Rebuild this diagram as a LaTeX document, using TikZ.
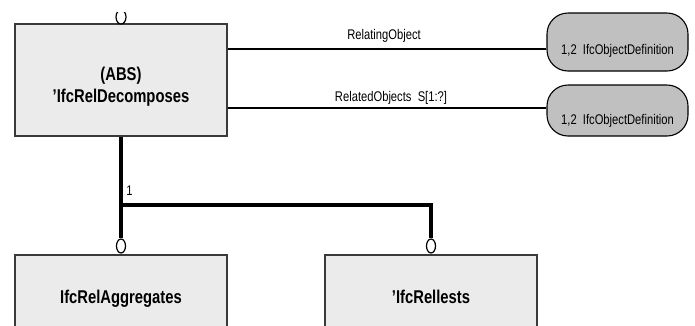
\documentclass[tikz,border=0pt]{standalone}
\usepackage{fontspec}
\setmainfont[FakeStretch=0.8]{Liberation Sans}
\usetikzlibrary{shapes.geometric}
\definecolor{boxfill}{HTML}{EBEBEB}
\definecolor{boxline}{HTML}{3A3A3A}
\definecolor{refill}{HTML}{C0C0C0}
\tikzset{
  entity/.style={draw=boxline, line width=1.2pt, fill=boxfill, rectangle, inner sep=0pt},
  refbox/.style={draw=black, line width=1.1pt, fill=refill, rectangle, rounded corners=21pt, inner sep=0pt, minimum width=141pt},
  bigtxt/.style={font=\fontsize{18.5}{22}\selectfont\bfseries, inner sep=0pt, anchor=base},
  smalltxt/.style={font=\fontsize{14}{16}\selectfont, inner sep=0pt, anchor=base},
  rel/.style={draw=black, line width=1.3pt},
  heavy/.style={draw=black, line width=3.6pt, line join=miter},
  optcirc/.style={ellipse, draw=black, line width=1.2pt, fill=white, minimum width=9pt, minimum height=14pt, inner sep=0pt}
}
\begin{document}
\begin{tikzpicture}[x=1pt,y=-1pt]
\useasboundingbox (0,0) rectangle (695,325);
\clip (0,0) rectangle (695,325);
\fill[white] (0,0) rectangle (695,325);

% main entity
\node[entity, minimum width=212pt, minimum height=112pt] (d) at (121,80) {};
\node[bigtxt] (dabs) at (121,80) {(ABS)};
\node[bigtxt] (dname) at (121,102) {'IfcRelDecomposes};

% top optional circle (clipped)
\begin{scope}
\clip (100,12) rectangle (142,24);
\node[optcirc, minimum width=10pt] (ctop) at (121,17) {};
\end{scope}

% referenced entities
\node[refbox, minimum height=58pt] (o1) at (617.5,42) {};
\node[smalltxt] (o1t) at (617.5,54) {1,2\ \ IfcObjectDefinition};
\node[refbox, minimum height=51pt] (o2) at (617.5,110.5) {};
\node[smalltxt] (o2t) at (617.5,124) {1,2\ \ IfcObjectDefinition};

\coordinate (r1) at (400,49);
\coordinate (r2) at (400,108);
\draw[rel] (d.east |- r1) -- (o1.west |- r1);
\draw[rel] (d.east |- r2) -- (o2.west |- r2);
\node[smalltxt] (l1) at (384,39) {RelatingObject};
\node[smalltxt] (l2) at (391,101) {RelatedObjects\ \ S[1:?]};

% subtypes
\node[entity, minimum width=212pt, minimum height=90pt] (a) at (121,300) {};
\node[bigtxt] (at) at (121,303) {IfcRelAggregates};
\node[entity, minimum width=212pt, minimum height=90pt] (n) at (431,300) {};
\node[bigtxt] (nt) at (431,303) {'IfcRellests};

\node[optcirc] (c1) at (121,246) {};
\node[optcirc] (c2) at (431,246) {};

\coordinate (j) at (121,205);
\draw[heavy] (d.south) -- (j) -- (c1.north);
\draw[heavy] (j) -| (c2.north);
\node[smalltxt] (one) at (129.5,195) {1};
\end{tikzpicture}
\end{document}
